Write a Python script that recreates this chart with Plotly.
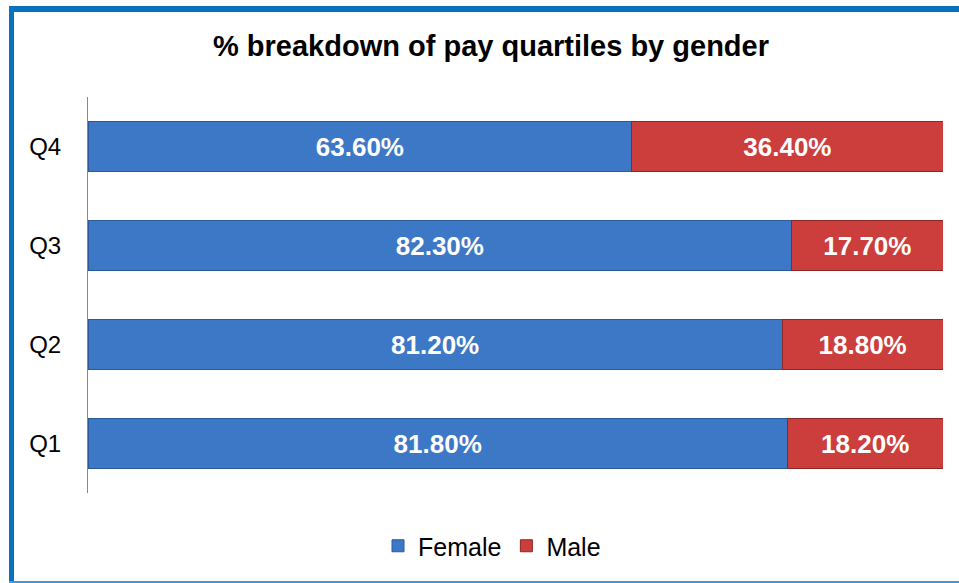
import plotly.graph_objects as go

quartiles = ["Q1", "Q2", "Q3", "Q4"]
female = [81.8, 81.2, 82.3, 63.6]
male = [18.2, 18.8, 17.7, 36.4]

W, H = 959, 583
ml, mr, mt, mb = 88, 16, 97, 90
pw, ph = W - ml - mr, H - mt - mb

def px(x):
    return (x - ml) / pw

def py(y):
    return (H - mb - y) / ph

label_font = dict(family="Liberation Sans", size=26, color="white", weight="bold")

fig = go.Figure()
fig.add_trace(go.Bar(
    y=quartiles, x=female, name="Female", orientation="h",
    marker=dict(color="#3D78C6", line=dict(color="#2A5A9A", width=1)),
    texttemplate="%{x:.2f}%", textposition="inside", insidetextanchor="middle",
    textangle=0, textfont=label_font, hoverinfo="skip",
))
fig.add_trace(go.Bar(
    y=quartiles, x=male, name="Male", orientation="h",
    marker=dict(color="#CB3E3C", line=dict(color="#8E2624", width=1)),
    texttemplate="%{x:.2f}%", textposition="inside", insidetextanchor="middle",
    textangle=0, textfont=label_font, hoverinfo="skip",
))

shapes = [
    dict(type="line", xref="paper", yref="paper", x0=px(11.5), x1=px(11.5), y0=py(7), y1=py(590),
         line=dict(color="#0A70C0", width=5)),
    dict(type="line", xref="paper", yref="paper", x0=px(9), x1=px(970), y0=py(9), y1=py(9),
         line=dict(color="#0A70C0", width=6)),
    dict(type="line", xref="paper", yref="paper", x0=px(9), x1=px(970), y0=py(582), y1=py(582),
         line=dict(color="#3D9AE0", width=2)),
]

fig.update_layout(
    width=W, height=H,
    margin=dict(l=ml, r=mr, t=mt, b=mb),
    barmode="stack", bargap=0.49,
    plot_bgcolor="white", paper_bgcolor="white",
    title=dict(text="<b>% breakdown of pay quartiles by gender</b>",
               x=491 / W, xanchor="center", y=1 - 46 / H, yanchor="middle",
               font=dict(family="Liberation Sans", size=29, color="black")),
    xaxis=dict(range=[0, 100], visible=False, fixedrange=True),
    yaxis=dict(categoryorder="array", categoryarray=quartiles, range=[-0.5, 3.5],
               showline=True, linecolor="#888888", linewidth=1, ticks="",
               showgrid=False, ticklabelstandoff=21, fixedrange=True,
               tickfont=dict(family="Liberation Sans", size=24, color="black")),
    legend=dict(orientation="h", x=px(492), xanchor="center", y=py(546), yanchor="middle",
                font=dict(family="Liberation Sans", size=25, color="black"),
                itemwidth=30, traceorder="normal"),
    shapes=shapes,
    showlegend=True,
)

fig.write_html("out.html", config={"displayModeBar": False},
               post_script="document.body.style.margin='0';document.body.style.overflow='hidden';")
